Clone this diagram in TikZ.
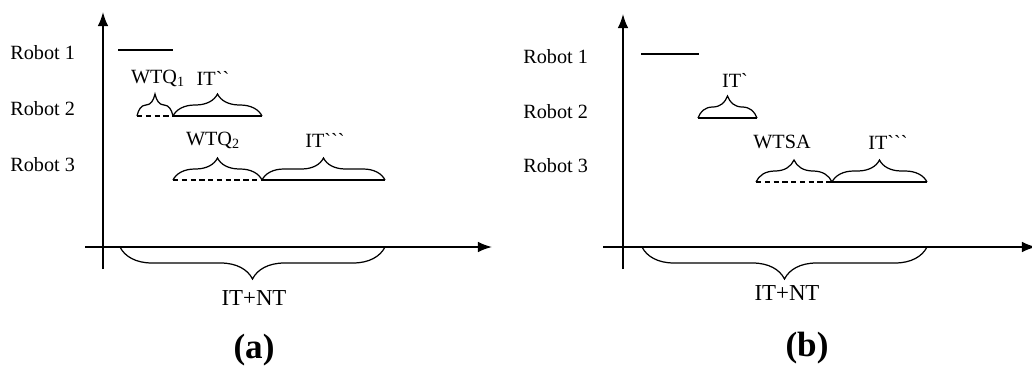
\documentclass[tikz,border=0pt]{standalone}
\usepackage{fontspec}
\newfontfamily\robofont{Liberation Serif}
\usetikzlibrary{arrows.meta,decorations.pathreplacing}

\tikzset{
    axis/.style={line width=0.9pt, -{Latex[length=8pt,width=6pt]}},
    robotlbl/.style={anchor=west, inner sep=0pt, font=\robofont\fontsize{11.5}{13}\selectfont},
    timelbl/.style={inner sep=0pt, font=\robofont\fontsize{11.5}{13}\selectfont},
    totallbl/.style={inner sep=0pt, font=\robofont\fontsize{13}{15}\selectfont},
    caption/.style={inner sep=0pt, font=\robofont\bfseries\fontsize{20}{23}\selectfont},
    busy/.style={line width=0.8pt},
    waiting/.style={line width=0.8pt, dash pattern=on 3pt off 2pt},
    span/.style={line width=0.7pt, decorate, decoration={brace, amplitude=0.44cm}},
    total/.style={line width=0.7pt, decorate, decoration={brace, amplitude=0.64cm}}
}

\begin{document}
\begin{tikzpicture}[x=0.02cm, y=-0.02cm]
\useasboundingbox (0,0) rectangle (1032,372);

% ===== Panel A: queue waiting =====
\begin{scope}[shift={(0,0)}]
    \coordinate (ayb) at (103,269);
    \coordinate (ayt) at (103,12);
    \coordinate (axl) at (85,247);
    \coordinate (axr) at (492,247);
    \draw[axis] (ayb) -- (ayt);
    \draw[axis] (axl) -- (axr);

    \node[robotlbl] (ar1) at (10,53)  {Robot 1};
    \node[robotlbl] (ar2) at (10,109) {Robot 2};
    \node[robotlbl] (ar3) at (10,165) {Robot 3};

    % robot 1 works first
    \coordinate (a1s) at (118,50);
    \coordinate (a1e) at (173,50);
    \draw[busy] (a1s) -- (a1e);

    % robot 2 waits, then works
    \coordinate (a2s) at (137,116);
    \coordinate (a2m) at (173,116);
    \coordinate (a2e) at (262,116);
    \draw[waiting] (a2s) -- (a2m);
    \draw[busy] (a2m) -- (a2e);
    \draw[span] (a2s) -- (a2m);
    \draw[span] (a2m) -- (a2e);
    \node[timelbl] (awq1) at (158,78) {WTQ\textsubscript{1}};
    \node[timelbl] (ait2) at (213,78) {IT``};

    % robot 3 waits longer, then works
    \coordinate (a3s) at (173,180);
    \coordinate (a3m) at (262,180);
    \coordinate (a3e) at (385,180);
    \draw[waiting] (a3s) -- (a3m);
    \draw[busy] (a3m) -- (a3e);
    \draw[span] (a3s) -- (a3m);
    \draw[span] (a3m) -- (a3e);
    \node[timelbl] (awq2) at (213,140) {WTQ\textsubscript{2}};
    \node[timelbl] (ait3) at (325,140) {IT```};

    % total time
    \coordinate (ats) at (120,247);
    \coordinate (ate) at (385,247);
    \draw[total] (ate) -- (ats);
    \node[totallbl] (atot) at (254,298) {IT+NT};
    \node[caption] (acap) at (254,350) {(a)};
\end{scope}

% ===== Panel B: shared area waiting =====
\begin{scope}[shift={(520,0)}]
    \coordinate (byb) at (103,269);
    \coordinate (byt) at (103,14);
    \coordinate (bxl) at (83,247);
    \coordinate (bxr) at (516,247);
    \draw[axis] (byb) -- (byt);
    \draw[axis] (bxl) -- (bxr);

    \node[robotlbl] (br1) at (3,57)  {Robot 1};
    \node[robotlbl] (br2) at (3,112) {Robot 2};
    \node[robotlbl] (br3) at (3,166) {Robot 3};

    % robot 1 works first
    \coordinate (b1s) at (121,54);
    \coordinate (b1e) at (179,54);
    \draw[busy] (b1s) -- (b1e);

    % robot 2 works straight after
    \coordinate (b2s) at (178,118);
    \coordinate (b2e) at (237,118);
    \draw[busy] (b2s) -- (b2e);
    \draw[span] (b2s) -- (b2e);
    \node[timelbl] (bit1) at (215,80) {IT`};

    % robot 3 waits for the shared area
    \coordinate (b3s) at (236,182);
    \coordinate (b3m) at (312,182);
    \coordinate (b3e) at (407,182);
    \draw[waiting] (b3s) -- (b3m);
    \draw[busy] (b3m) -- (b3e);
    \draw[span] (b3s) -- (b3m);
    \draw[span] (b3m) -- (b3e);
    \node[timelbl] (bws) at (262,142) {WTSA};
    \node[timelbl] (bit3) at (368,142) {IT```};

    % total time
    \coordinate (bts) at (122,247);
    \coordinate (bte) at (407,247);
    \draw[total] (bte) -- (bts);
    \node[totallbl] (btot) at (267,293) {IT+NT};
    \node[caption] (bcap) at (287,348) {(b)};
\end{scope}

\end{tikzpicture}
\end{document}
